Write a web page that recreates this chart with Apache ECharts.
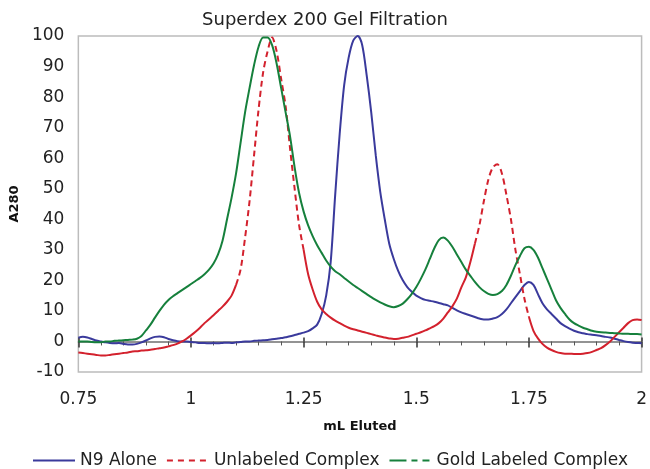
<!DOCTYPE html>
<html>
<head>
<meta charset="utf-8">
<script src="https://cdn.jsdelivr.net/npm/echarts@6/dist/echarts.min.js"></script>
<style>
  html, body { margin: 0; padding: 0; background: #fff; }
  #chart { width: 650px; height: 469px; }
</style>
</head>
<body>
<div id="chart"></div>
<script>
// mL eluted, 0.75 .. 2.00 step 0.01
const elutedML = [
  0.75, 0.76, 0.77, 0.78, 0.79, 0.80, 0.81, 0.82, 0.83, 0.84, 0.85, 0.86, 0.87, 0.88, 0.89,
  0.90, 0.91, 0.92, 0.93, 0.94, 0.95, 0.96, 0.97, 0.98, 0.99, 1.00, 1.01, 1.02, 1.03, 1.04,
  1.05, 1.06, 1.07, 1.08, 1.09, 1.10, 1.11, 1.12, 1.13, 1.14, 1.15, 1.16, 1.17, 1.18, 1.19,
  1.20, 1.21, 1.22, 1.23, 1.24, 1.25, 1.26, 1.27, 1.28, 1.29, 1.30, 1.31, 1.32, 1.33, 1.34,
  1.35, 1.36, 1.37, 1.38, 1.39, 1.40, 1.41, 1.42, 1.43, 1.44, 1.45, 1.46, 1.47, 1.48, 1.49,
  1.50, 1.51, 1.52, 1.53, 1.54, 1.55, 1.56, 1.57, 1.58, 1.59, 1.60, 1.61, 1.62, 1.63, 1.64,
  1.65, 1.66, 1.67, 1.68, 1.69, 1.70, 1.71, 1.72, 1.73, 1.74, 1.75, 1.76, 1.77, 1.78, 1.79,
  1.80, 1.81, 1.82, 1.83, 1.84, 1.85, 1.86, 1.87, 1.88, 1.89, 1.90, 1.91, 1.92, 1.93, 1.94,
  1.95, 1.96, 1.97, 1.98, 1.99, 2.00
]

// A280 - N9 Alone
const n9Alone = [
  1.2, 1.5, 1.3, 0.8, 0.3, 0, -0.3, -0.5, -0.6, -0.5, -0.8, -1, -1, -0.8, -0.3,
  0.3, 1, 1.5, 1.6, 1.4, 0.8, 0.4, 0.1, 0, 0, -0.2, -0.3, -0.5, -0.5, -0.6,
  -0.5, -0.6, -0.5, -0.4, -0.5, -0.3, -0.2, 0, 0, 0.2, 0.3, 0.4, 0.5, 0.7, 0.9,
  1.1, 1.4, 1.7, 2.1, 2.5, 2.9, 3.4, 4.3, 5.5, 9, 15, 26, 48, 68, 84,
  93, 98.5, 100, 97, 87, 75, 61, 49, 40, 32, 27, 23, 20, 17.8, 16.3,
  15, 14.2, 13.6, 13.3, 13, 12.6, 12.2, 11.8, 11, 10.2, 9.5, 9, 8.5, 8, 7.5,
  7.2, 7.2, 7.5, 8, 9, 10.5, 12.5, 14.5, 16.5, 18.5, 19.5, 18.5, 15.5, 12.5, 10.5,
  9, 7.5, 6, 5, 4.2, 3.5, 3, 2.7, 2.4, 2.2, 2, 1.8, 1.5, 1.3, 0.9,
  0.5, 0.1, -0.2, -0.4, -0.5, -0.6
]

// A280 - Unlabeled Complex
const unlabeled = [
  -3.6, -3.8, -4, -4.2, -4.4, -4.6, -4.6, -4.4, -4.2, -4, -3.8, -3.6, -3.3, -3.2, -3,
  -2.9, -2.7, -2.5, -2.2, -2, -1.6, -1.2, -0.7, 0, 0.9, 2, 3.2, 4.5, 6, 7.3,
  8.6, 10, 11.4, 13, 15, 18.5, 23.5, 34, 46, 61, 76, 88, 95, 99.5, 95,
  86, 77, 63, 50, 38, 30, 22, 17, 13, 10.5, 9, 7.8, 6.8, 6, 5.2,
  4.5, 4, 3.6, 3.2, 2.8, 2.4, 2, 1.6, 1.3, 1, 0.8, 0.9, 1.2, 1.5, 2,
  2.5, 3, 3.6, 4.3, 5, 6, 7.5, 9.5, 11.5, 14, 17.7, 21, 26, 32, 38,
  46, 53, 57, 58, 55, 48, 40, 30, 22, 14, 8, 3.5, 1, -0.8, -2,
  -2.8, -3.4, -3.8, -4, -4, -4.1, -4.1, -4, -3.8, -3.4, -2.8, -2.2, -1.2, 0, 1.5,
  3, 4.5, 6, 7, 7.2, 7
]

// A280 - Gold Labeled Complex
const goldLabeled = [
  0, 0, 0, -0.2, -0.3, -0.3, 0, 0, 0.2, 0.3, 0.4, 0.5, 0.6, 0.9, 1.8,
  3.6, 5.5, 7.8, 10, 12, 13.6, 14.8, 15.8, 16.8, 17.8, 18.8, 19.8, 20.8, 22, 23.5,
  25.5, 28.5, 33, 40, 47, 55, 65, 75, 83, 90.5, 96.5, 99.5, 99.5, 97, 91,
  83, 75, 67, 57, 48.5, 42.5, 38, 34.5, 31.5, 29, 26.5, 24.5, 23, 22, 20.8,
  19.6, 18.5, 17.5, 16.5, 15.5, 14.5, 13.6, 12.8, 12.1, 11.5, 11.2, 11.6, 12.4, 13.8, 15.6,
  17.8, 20.5, 23.5, 27, 30.5, 33.2, 34, 33, 31, 28.5, 26, 23.5, 21.5, 19.5, 17.8,
  16.5, 15.6, 15.2, 15.5, 16.5, 18.5, 21.5, 25, 28, 30.5, 31, 30, 27.5, 24, 20.5,
  17, 13.5, 11, 9, 7.2, 6, 5.2, 4.5, 4, 3.5, 3.2, 3, 2.9, 2.8, 2.7,
  2.6, 2.5, 2.5, 2.4, 2.4, 2.3
]

// Excel dashes only show on the steep stretches of the red trace
const redDashed = [[1.10, 1.25], [1.63, 1.75]]

const FONT = 'DejaVu Sans'
const BLUE = '#3a3a9c'
const RED = '#d3212d'
const GREEN = '#16803c'

const pairs = vals => elutedML.map((x, i) => [x, vals[i]])
const near = (a, b) => Math.abs(a - b) < 1e-9
const inDash = x => redDashed.some(r => x >= r[0] - 1e-9 && x <= r[1] + 1e-9)
const isEdge = x => redDashed.some(r => near(x, r[0]) || near(x, r[1]))
const redSolid = elutedML.map((x, i) => [x, (!inDash(x) || isEdge(x)) ? unlabeled[i] : null])
const redDash = elutedML.map((x, i) => [x, inDash(x) ? unlabeled[i] : null])

const chart = echarts.init(document.getElementById('chart'))

// plot box: 77..644 x 36..372; the x axis line sits on y = 0, 10 units above the bottom
const gridTop = 36, gridBottom = 97
const zeroOffset = (469 - gridBottom - gridTop) * 10 / 110

const option = {
  animation: false,
  textStyle: { fontFamily: FONT },
  title: {
    text: 'Superdex 200 Gel Filtration',
    left: 'center',
    top: 6,
    textStyle: { fontFamily: FONT, fontSize: 18, fontWeight: 'normal', color: '#222' }
  },
  grid: { left: 77, right: 6, top: gridTop, bottom: gridBottom, show: true, borderColor: '#bcbcbc', borderWidth: 1.5 },
  legend: {
    top: 447,
    left: 27,
    itemWidth: 42,
    itemHeight: 14,
    itemGap: 9,
    itemStyle: { opacity: 0 },
    textStyle: { fontFamily: FONT, fontSize: 17, color: '#222' },
    data: [
      { name: 'N9 Alone' },
      { name: 'Unlabeled Complex', lineStyle: { type: [6, 5] } },
      { name: 'Gold Labeled Complex', lineStyle: { type: [17, 5, 6, 5, 7, 4] } }
    ]
  },
  xAxis: [
    {
      type: 'value', min: 0.75, max: 2, interval: 0.25,
      position: 'bottom',
      offset: -zeroOffset,
      splitLine: { show: false },
      axisLine: { show: true, onZero: false, lineStyle: { color: '#707070', width: 1.5 } },
      axisTick: { show: true, length: 6, lineStyle: { color: '#333', width: 1.5 } },
      minorTick: { show: true, splitNumber: 5, length: 4, lineStyle: { color: '#555', width: 1 } },
      axisLabel: { fontFamily: FONT, fontSize: 17, color: '#222', margin: 50 },
      name: 'mL Eluted',
      nameLocation: 'middle',
      nameGap: 79,
      nameTextStyle: { fontFamily: FONT, fontSize: 13, fontWeight: 'bold', color: '#111' }
    },
    {
      // inner half of the major ticks
      type: 'value', min: 0.75, max: 2, interval: 0.25,
      position: 'bottom',
      offset: -zeroOffset,
      splitLine: { show: false },
      axisLine: { show: false, onZero: false },
      axisTick: { show: true, inside: true, length: 4, lineStyle: { color: '#333', width: 1.5 } },
      axisLabel: { show: false }
    }
  ],
  yAxis: {
    type: 'value',
    min: -10,
    max: 100,
    interval: 10,
    axisLine: { show: false },
    axisTick: { show: false },
    splitLine: { show: false },
    axisLabel: { fontFamily: FONT, fontSize: 17, color: '#222', margin: 14 },
    name: 'A280',
    nameLocation: 'middle',
    nameGap: 56,
    nameRotate: 90,
    nameTextStyle: { fontFamily: FONT, fontSize: 13, fontWeight: 'bold', color: '#111' }
  },
  series: [
    {
      name: 'N9 Alone', type: 'line', data: pairs(n9Alone),
      symbol: 'none', smooth: 0.3, lineStyle: { color: BLUE, width: 2 }, itemStyle: { color: BLUE }
    },
    {
      name: 'Unlabeled Complex', type: 'line', data: redSolid,
      symbol: 'none', smooth: 0.3, connectNulls: false, lineStyle: { color: RED, width: 2 }, itemStyle: { color: RED }
    },
    {
      name: 'Unlabeled Complex', type: 'line', data: redDash,
      symbol: 'none', smooth: 0.3, connectNulls: false, lineStyle: { color: RED, width: 2, type: [6, 4] }, itemStyle: { color: RED }
    },
    {
      name: 'Gold Labeled Complex', type: 'line', data: pairs(goldLabeled),
      symbol: 'none', smooth: 0.3, lineStyle: { color: GREEN, width: 2 }, itemStyle: { color: GREEN }
    }
  ]
}

chart.setOption(option)
</script>
</body>
</html>
